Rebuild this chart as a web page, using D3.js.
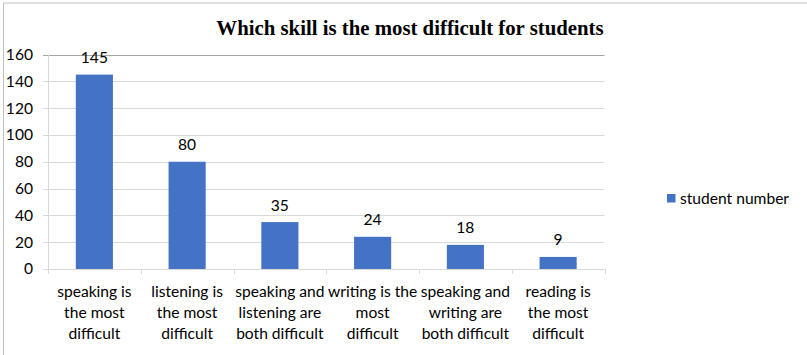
<!DOCTYPE html>
<html><head><meta charset="utf-8">
<script src="https://cdn.jsdelivr.net/npm/d3@7"></script>
<style>body{margin:0;background:#fff}svg{display:block}</style>
</head><body>
<script>
const categories = [
  ["speaking is","the most","difficult"],
  ["listening is","the most","difficult"],
  ["speaking and","listening are","both difficult"],
  ["writing is the","most","difficult"],
  ["speaking and","writing are","both difficult"],
  ["reading is","the most","difficult"]
];
const values = [145, 80, 35, 24, 18, 9];
const yTicks = [0, 20, 40, 60, 80, 100, 120, 140, 160];
const seriesName = "student number";
const title = "Which skill is the most difficult for students";

const W = 807, H = 355;
const svg = d3.select("body").append("svg").attr("width", W).attr("height", H);
const font = "Lato, 'Open Sans', sans-serif";
const fs = 15.6;

// frame
svg.append("line").attr("x1",3.5).attr("x2",W).attr("y1",3).attr("y2",3).attr("stroke","#bfbfbf");
svg.append("line").attr("x1",3.5).attr("x2",3.5).attr("y1",3).attr("y2",H).attr("stroke","#bfbfbf");

const x = d3.scaleBand().domain(d3.range(categories.length)).range([48, 604.5]).paddingInner(0.6).paddingOuter(0.3);
const y = d3.scaleLinear().domain([0,160]).range([269, 54.5]);

// gridlines
svg.append("g").selectAll("line").data(yTicks).join("line")
  .attr("x1",43).attr("x2",604.5)
  .attr("y1",d=>Math.round(y(d))+0.5).attr("y2",d=>Math.round(y(d))+0.5)
  .attr("stroke",d=>d===160?"#a6a6a6":"#d9d9d9");

// y axis line
svg.append("line").attr("x1",48.5).attr("x2",48.5).attr("y1",y(160)).attr("y2",y(0)).attr("stroke","#d9d9d9");

// y labels
svg.append("g").selectAll("text").data(yTicks).join("text")
  .attr("x",33).attr("y",d=>y(d)).attr("dy","0.35em")
  .attr("text-anchor","end").attr("font-family",font).attr("font-size",fs).attr("fill","#000")
  .text(d=>d);

// x axis line and ticks
const xb = d3.range(categories.length+1).map(i => 48 + i*(604.5-48)/categories.length);
svg.append("line").attr("x1",48).attr("x2",604.5).attr("y1",269.5).attr("y2",269.5).attr("stroke","#d9d9d9");
svg.append("g").selectAll("line").data(xb).join("line")
  .attr("x1",d=>Math.round(d)+0.5).attr("x2",d=>Math.round(d)+0.5).attr("y1",269).attr("y2",274).attr("stroke","#d9d9d9");

// bars
svg.append("g").selectAll("rect").data(values).join("rect")
  .attr("x",(d,i)=>x(i)).attr("width",x.bandwidth())
  .attr("y",d=>y(d)).attr("height",d=>y(0)-y(d))
  .attr("fill","#4472C4");

// data labels
svg.append("g").selectAll("text").data(values).join("text")
  .attr("x",(d,i)=>x(i)+x.bandwidth()/2).attr("y",d=>y(d)-17).attr("dy","0.35em")
  .attr("text-anchor","middle").attr("font-family",font).attr("font-size",fs).attr("fill","#000")
  .text(d=>d);

// category labels
const cg = svg.append("g").selectAll("text").data(categories).join("text")
  .attr("text-anchor","middle").attr("font-family",font).attr("font-size",fs).attr("fill","#000");
cg.selectAll("tspan").data((d,i)=>d.map(s=>({s,i}))).join("tspan")
  .attr("x",d=>x(d.i)+x.bandwidth()/2)
  .attr("y",(d,j)=>292+j*20.7).attr("dy","0.35em")
  .text(d=>d.s);

// title
svg.append("text").attr("x",410).attr("y",28).attr("dy","0.35em").attr("text-anchor","middle")
  .attr("font-family","'Liberation Serif','Times New Roman',serif").attr("font-weight","bold").attr("font-size",20.8)
  .text(title);

// legend
svg.append("rect").attr("x",667).attr("y",194).attr("width",8.5).attr("height",8.5).attr("fill","#4472C4");
svg.append("text").attr("x",680).attr("y",199).attr("dy","0.35em").attr("font-family",font).attr("font-size",fs).attr("fill","#000").text(seriesName);
</script>
</body></html>
